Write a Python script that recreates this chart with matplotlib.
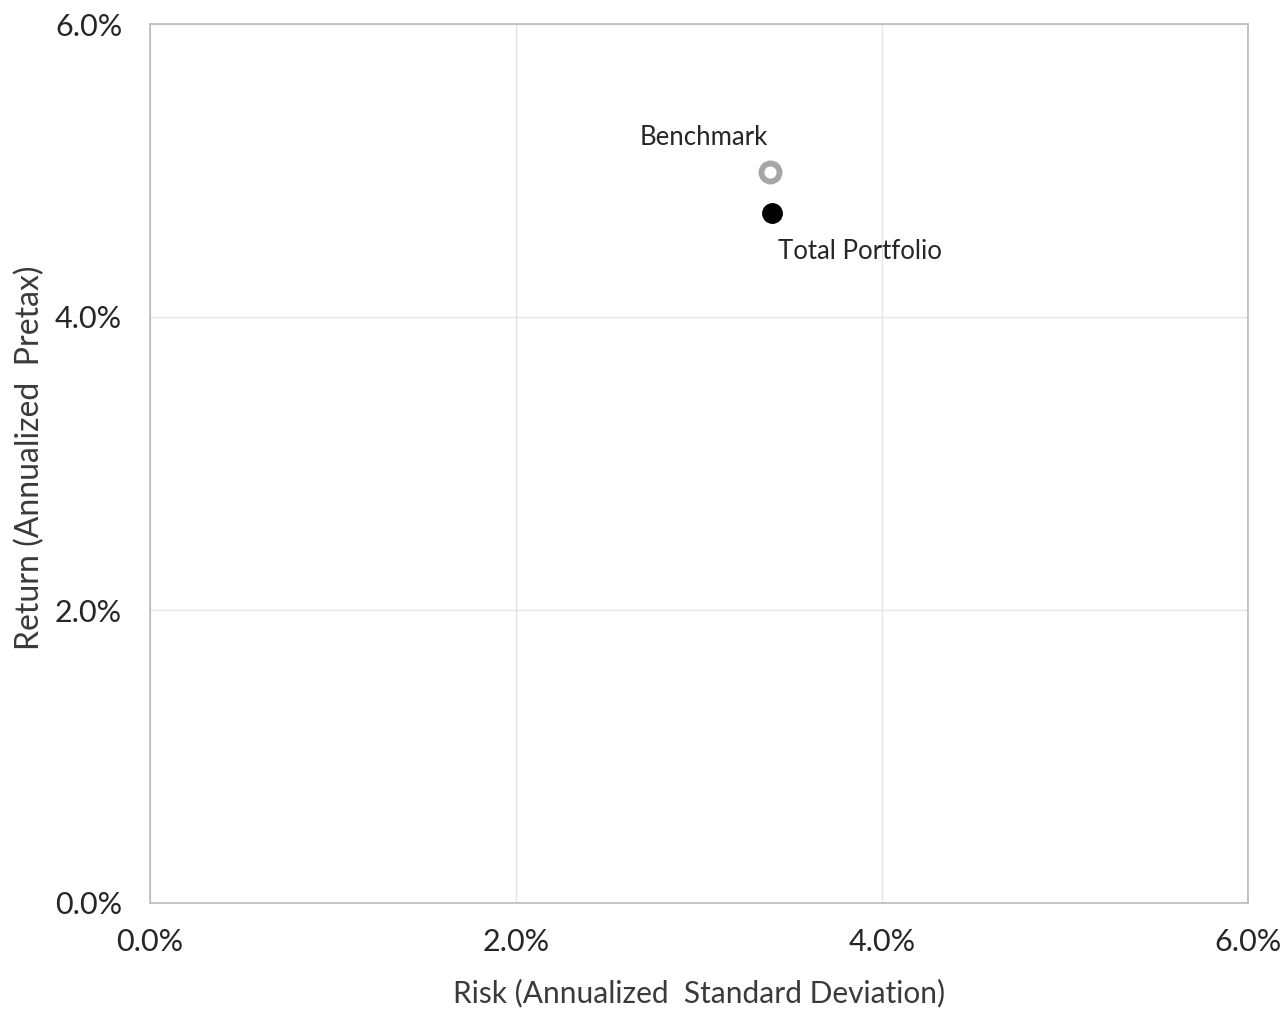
import matplotlib
matplotlib.use("Agg")
import matplotlib.pyplot as plt
from matplotlib.ticker import FuncFormatter

names = ["Benchmark", "Total Portfolio"]
risk = [3.39, 3.40]
ret = [4.99, 4.71]
ticks = [0, 2, 4, 6]

plt.rcParams['font.family'] = ['Lato', 'DejaVu Sans']

fig = plt.figure(figsize=(12.84, 10.10), dpi=100)
ax = fig.add_axes([150/1284, 1 - 903/1010, 1098/1284, 879/1010])

ax.set_xlim(0, 6)
ax.set_ylim(0, 6)
ax.set_xticks(ticks)
ax.set_yticks(ticks)
fmt = FuncFormatter(lambda v, p: f"{v:.1f}%")
ax.xaxis.set_major_formatter(fmt)
ax.yaxis.set_major_formatter(fmt)
ax.grid(True, color="#e3e3e3", linewidth=1)
ax.set_axisbelow(True)
for s in ax.spines.values():
    s.set_color("#bfbfbf")
    s.set_linewidth(1.3)
ax.tick_params(length=0, labelsize=22, colors="#262626")
ax.tick_params(axis='x', pad=18)
ax.tick_params(axis='y', pad=20)

ax.plot(risk[0], ret[0], 'o', markersize=13, markerfacecolor="white",
        markeredgecolor="#a6a6a6", markeredgewidth=4.2, zorder=3)
ax.plot(risk[1], ret[1], 'o', markersize=14, markerfacecolor="black",
        markeredgecolor="black", markeredgewidth=1, zorder=3)

ax.annotate(names[0], (risk[0], ret[0]), xytext=(-2, 25), textcoords="offset points",
            ha="right", va="center", fontsize=18.5, color="#262626")
ax.annotate(names[1], (risk[1], ret[1]), xytext=(4, -28), textcoords="offset points",
            ha="left", va="center", fontsize=18.5, color="#262626")

ax.set_xlabel("Risk (Annualized  Standard Deviation)", fontsize=21.5, color="#3a3a3a")
ax.set_ylabel("Return (Annualized  Pretax)", fontsize=23, color="#3a3a3a")
ax.xaxis.set_label_coords(0.5, -0.102)
ax.yaxis.set_label_coords(-0.109, 0.507)
ax.xaxis.label.set_va("center")
ax.yaxis.label.set_va("center")

fig.savefig("out.png", dpi=100)
